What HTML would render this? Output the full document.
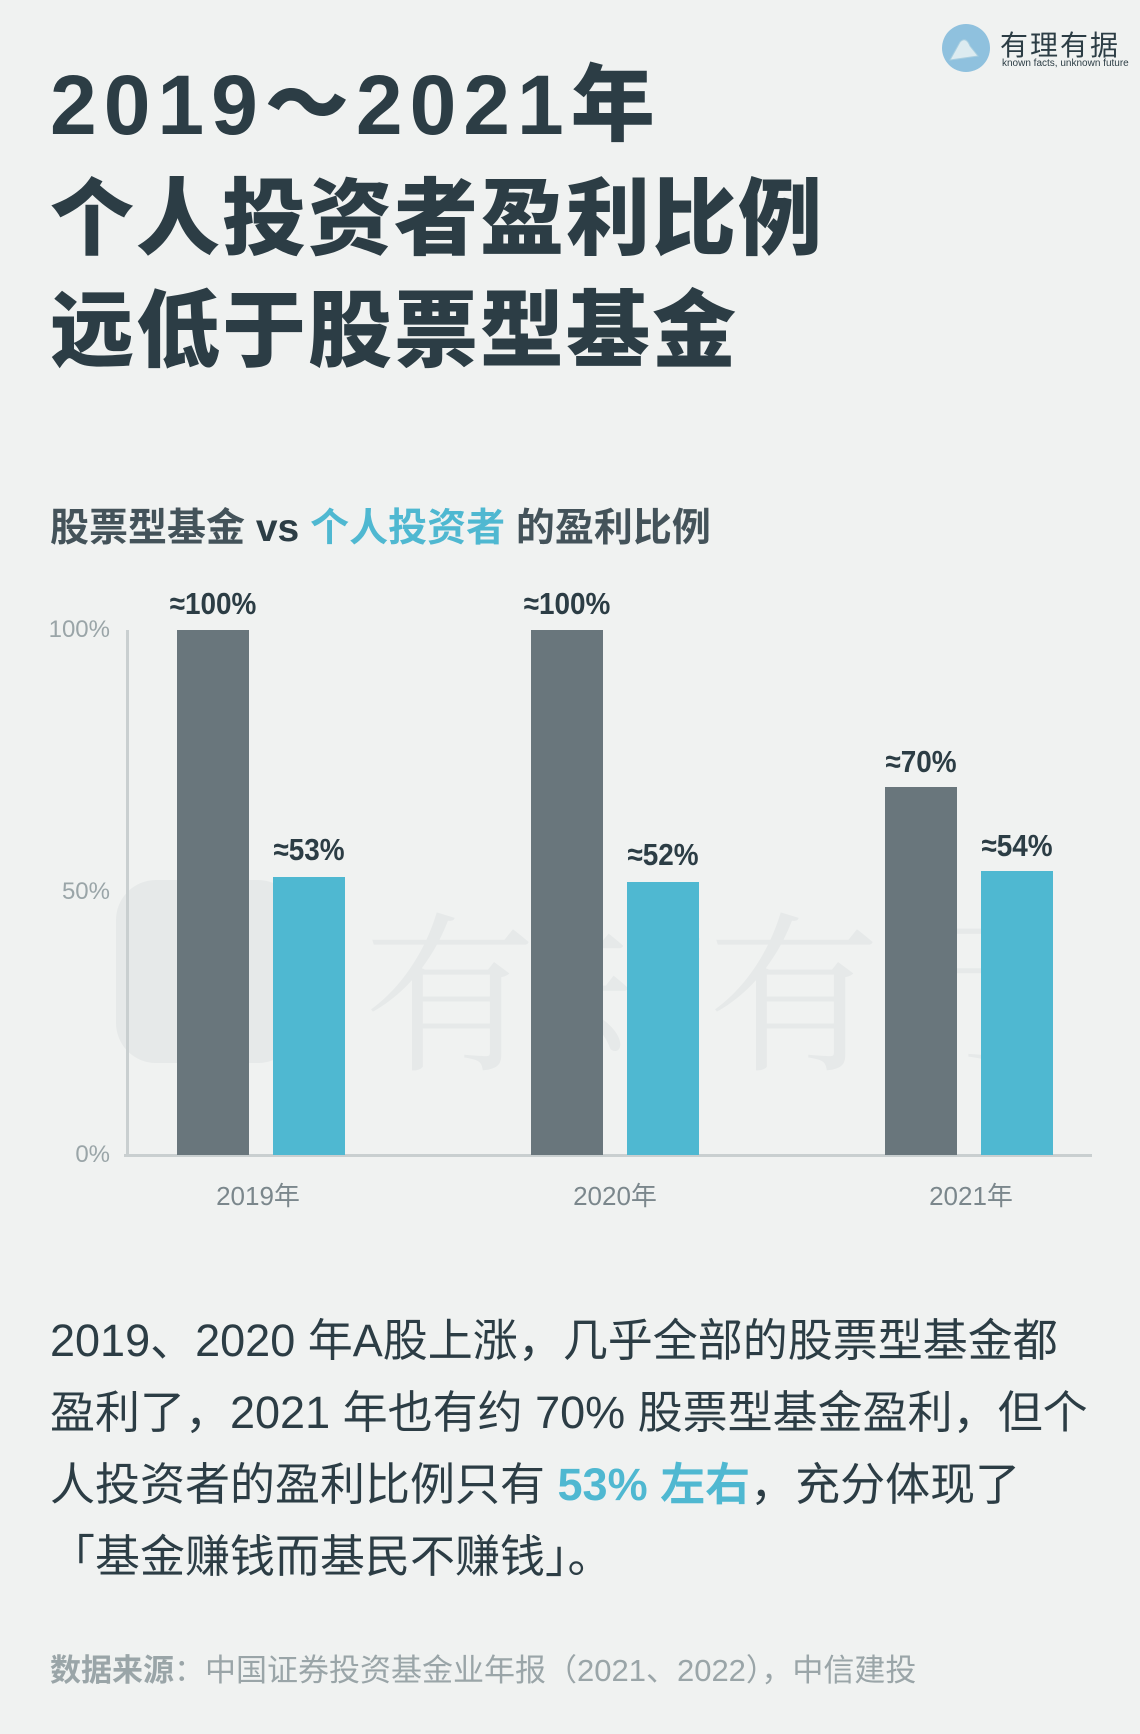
<!DOCTYPE html>
<html><head><meta charset="utf-8"><style>
body{margin:0;width:1140px;height:1734px;background:#f0f2f1;position:relative;overflow:hidden;font-family:"Liberation Sans","Noto Sans CJK SC",sans-serif;color:#2c3d45}
.a{position:absolute;white-space:nowrap}
.t{font-weight:900;font-size:84px;left:50px;letter-spacing:2px}
.bar{position:absolute}
.g{background:#69767c}.c{background:#4fb8d1}
.v{position:absolute;font-size:31px;font-weight:700;width:140px;text-align:center;color:#2c3d45;transform:translateY(-50%) scaleX(0.9)}
.y{position:absolute;font-size:24px;color:#9aa5a8;right:1030px;text-align:right}
.x{position:absolute;font-size:26px;color:#7b878c;width:200px;text-align:center}
.p{font-size:45px;left:50px;line-height:72px}
</style></head><body>
<div class="a" style="left:942px;top:24px;width:48px;height:48px;border-radius:50%;background:#8fc1de"></div>
<svg class="a" style="left:948px;top:34px" width="36" height="30"><path d="M2 26 L12 8 Q18 2 22 12 L30 22 Z" fill="#dcebf0" stroke="#a9cfe0"/></svg>
<div class="a" style="left:1000px;top:24px;font-size:28px;color:#2c3d45;letter-spacing:2px">有理有据</div>
<div class="a" style="left:1002px;top:58px;font-size:10px;color:#2c3d45">known facts, unknown future</div>
<div class="a t" style="top:38px;letter-spacing:7px">2019～2021年</div>
<div class="a t" style="top:152px">个人投资者盈利比例</div>
<div class="a t" style="top:264px">远低于股票型基金</div>
<div class="a" style="left:50px;top:497px;font-size:39px;font-weight:700;color:#44535a">股票型基金 <span style="color:#2c3d45">vs</span> <span style="color:#4fb8d1">个人投资者</span> 的盈利比例</div>
<div class="a" style="left:364px;top:860px;font-size:172px;color:#e6e9e9;font-family:'Noto Serif CJK SC',serif;letter-spacing:0px">有知有行</div>
<div class="a" style="left:116px;top:880px;width:182px;height:183px;border-radius:40px;background:#e6e9e9"></div>
<div class="a" style="left:126px;top:630px;width:3px;height:526px;background:#c9cfd0"></div>
<div class="a" style="left:124px;top:1154px;width:968px;height:3px;background:#c9cfd0"></div>
<div class="y" style="top:630px;transform:translateY(-50%)">100%</div>
<div class="y" style="top:892px;transform:translateY(-50%)">50%</div>
<div class="y" style="top:1155px;transform:translateY(-50%)">0%</div>
<div class="bar g" style="left:177px;width:72px;top:630px;height:525px"></div>
<div class="bar c" style="left:273px;width:72px;top:877px;height:278px"></div>
<div class="bar g" style="left:531px;width:72px;top:630px;height:525px"></div>
<div class="bar c" style="left:627px;width:72px;top:882px;height:273px"></div>
<div class="bar g" style="left:885px;width:72px;top:787px;height:368px"></div>
<div class="bar c" style="left:981px;width:72px;top:871px;height:284px"></div>
<div class="v" style="left:143px;top:604px">≈100%</div>
<div class="v" style="left:239px;top:850px">≈53%</div>
<div class="v" style="left:497px;top:604px">≈100%</div>
<div class="v" style="left:593px;top:855px">≈52%</div>
<div class="v" style="left:851px;top:762px">≈70%</div>
<div class="v" style="left:947px;top:846px">≈54%</div>
<div class="x" style="left:158px;top:1176px">2019年</div>
<div class="x" style="left:515px;top:1176px">2020年</div>
<div class="x" style="left:871px;top:1176px">2021年</div>
<div class="a p" style="top:1305px">2019、2020 年A股上涨，几乎全部的股票型基金都<br>盈利了，2021 年也有约 70% 股票型基金盈利，但个<br>人投资者的盈利比例只有 <b style="color:#4fb8d1">53% 左右</b>，充分体现了<br>「基金赚钱而基民不赚钱」。</div>
<div class="a" style="left:50px;top:1645px;font-size:31px;color:#9aa5a8"><b>数据来源</b>：中国证券投资基金业年报（2021、2022），中信建投</div>
</body></html>
